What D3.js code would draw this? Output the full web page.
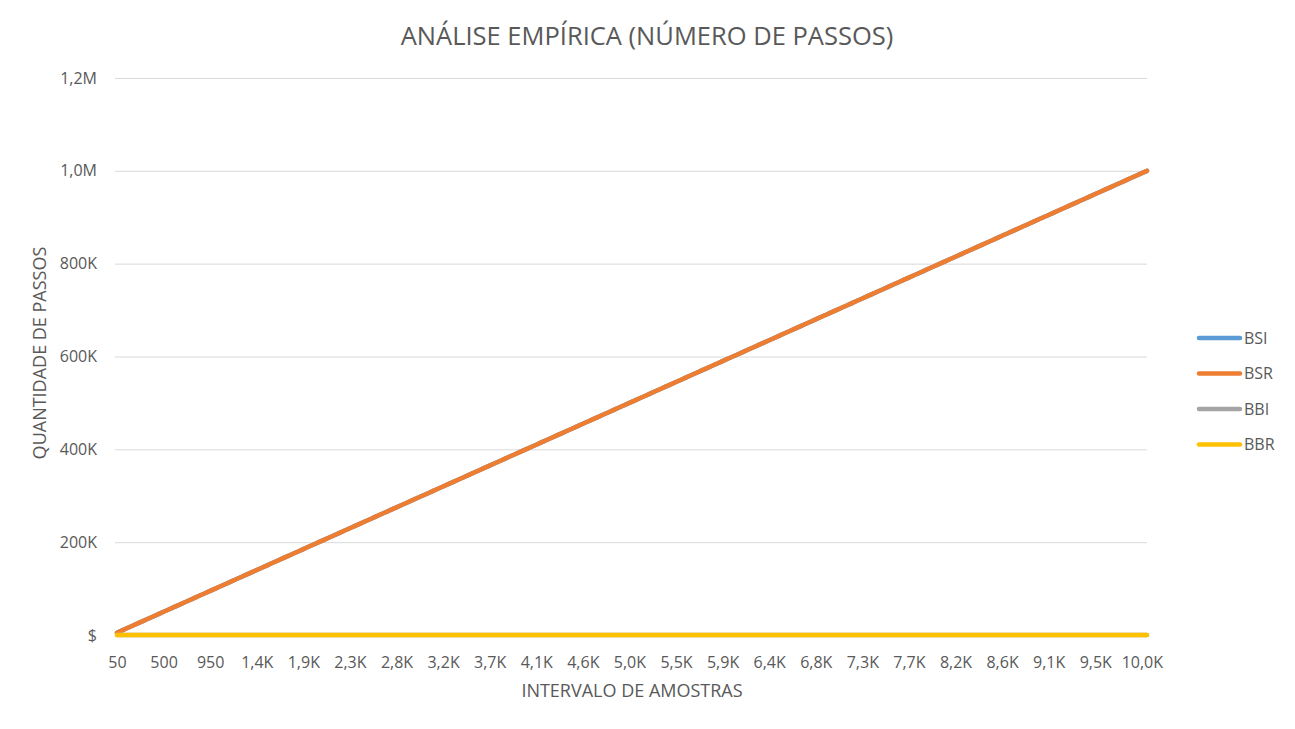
<!DOCTYPE html>
<html>
<head>
<meta charset="utf-8">
<script src="https://cdn.jsdelivr.net/npm/d3@7"></script>
<style>
  html, body { margin: 0; padding: 0; background: #fff; }
  svg { display: block; }
  text { font-family: "Open Sans", "Liberation Sans", sans-serif; fill: #595959; }
</style>
</head>
<body>
<svg id="chart" width="1295" height="729"></svg>
<script>
const categories = [
  50,100,150,200,250,300,350,400,450,500,
  550,600,650,700,750,800,850,900,950,1000,
  1050,1100,1150,1200,1250,1300,1350,1400,1450,1500,
  1550,1600,1650,1700,1750,1800,1850,1900,1950,2000,
  2050,2100,2150,2200,2250,2300,2350,2400,2450,2500,
  2550,2600,2650,2700,2750,2800,2850,2900,2950,3000,
  3050,3100,3150,3200,3250,3300,3350,3400,3450,3500,
  3550,3600,3650,3700,3750,3800,3850,3900,3950,4000,
  4050,4100,4150,4200,4250,4300,4350,4400,4450,4500,
  4550,4600,4650,4700,4750,4800,4850,4900,4950,5000,
  5050,5100,5150,5200,5250,5300,5350,5400,5450,5500,
  5550,5600,5650,5700,5750,5800,5850,5900,5950,6000,
  6050,6100,6150,6200,6250,6300,6350,6400,6450,6500,
  6550,6600,6650,6700,6750,6800,6850,6900,6950,7000,
  7050,7100,7150,7200,7250,7300,7350,7400,7450,7500,
  7550,7600,7650,7700,7750,7800,7850,7900,7950,8000,
  8050,8100,8150,8200,8250,8300,8350,8400,8450,8500,
  8550,8600,8650,8700,8750,8800,8850,8900,8950,9000,
  9050,9100,9150,9200,9250,9300,9350,9400,9450,9500,
  9550,9600,9650,9700,9750,9800,9850,9900,9950,10000
];

const BSI = [
  5000,10000,15000,20000,25000,30000,35000,40000,45000,50000,
  55000,60000,65000,70000,75000,80000,85000,90000,95000,100000,
  105000,110000,115000,120000,125000,130000,135000,140000,145000,150000,
  155000,160000,165000,170000,175000,180000,185000,190000,195000,200000,
  205000,210000,215000,220000,225000,230000,235000,240000,245000,250000,
  255000,260000,265000,270000,275000,280000,285000,290000,295000,300000,
  305000,310000,315000,320000,325000,330000,335000,340000,345000,350000,
  355000,360000,365000,370000,375000,380000,385000,390000,395000,400000,
  405000,410000,415000,420000,425000,430000,435000,440000,445000,450000,
  455000,460000,465000,470000,475000,480000,485000,490000,495000,500000,
  505000,510000,515000,520000,525000,530000,535000,540000,545000,550000,
  555000,560000,565000,570000,575000,580000,585000,590000,595000,600000,
  605000,610000,615000,620000,625000,630000,635000,640000,645000,650000,
  655000,660000,665000,670000,675000,680000,685000,690000,695000,700000,
  705000,710000,715000,720000,725000,730000,735000,740000,745000,750000,
  755000,760000,765000,770000,775000,780000,785000,790000,795000,800000,
  805000,810000,815000,820000,825000,830000,835000,840000,845000,850000,
  855000,860000,865000,870000,875000,880000,885000,890000,895000,900000,
  905000,910000,915000,920000,925000,930000,935000,940000,945000,950000,
  955000,960000,965000,970000,975000,980000,985000,990000,995000,1000000
];

const BSR = [
  5000,10000,15000,20000,25000,30000,35000,40000,45000,50000,
  55000,60000,65000,70000,75000,80000,85000,90000,95000,100000,
  105000,110000,115000,120000,125000,130000,135000,140000,145000,150000,
  155000,160000,165000,170000,175000,180000,185000,190000,195000,200000,
  205000,210000,215000,220000,225000,230000,235000,240000,245000,250000,
  255000,260000,265000,270000,275000,280000,285000,290000,295000,300000,
  305000,310000,315000,320000,325000,330000,335000,340000,345000,350000,
  355000,360000,365000,370000,375000,380000,385000,390000,395000,400000,
  405000,410000,415000,420000,425000,430000,435000,440000,445000,450000,
  455000,460000,465000,470000,475000,480000,485000,490000,495000,500000,
  505000,510000,515000,520000,525000,530000,535000,540000,545000,550000,
  555000,560000,565000,570000,575000,580000,585000,590000,595000,600000,
  605000,610000,615000,620000,625000,630000,635000,640000,645000,650000,
  655000,660000,665000,670000,675000,680000,685000,690000,695000,700000,
  705000,710000,715000,720000,725000,730000,735000,740000,745000,750000,
  755000,760000,765000,770000,775000,780000,785000,790000,795000,800000,
  805000,810000,815000,820000,825000,830000,835000,840000,845000,850000,
  855000,860000,865000,870000,875000,880000,885000,890000,895000,900000,
  905000,910000,915000,920000,925000,930000,935000,940000,945000,950000,
  955000,960000,965000,970000,975000,980000,985000,990000,995000,1000000
];

const BBI = [
  6,7,8,8,8,9,9,9,9,9,
  10,10,10,10,10,10,10,10,10,10,
  11,11,11,11,11,11,11,11,11,11,
  11,11,11,11,11,11,11,11,11,11,
  12,12,12,12,12,12,12,12,12,12,
  12,12,12,12,12,12,12,12,12,12,
  12,12,12,12,12,12,12,12,12,12,
  12,12,12,12,12,12,12,12,12,12,
  12,13,13,13,13,13,13,13,13,13,
  13,13,13,13,13,13,13,13,13,13,
  13,13,13,13,13,13,13,13,13,13,
  13,13,13,13,13,13,13,13,13,13,
  13,13,13,13,13,13,13,13,13,13,
  13,13,13,13,13,13,13,13,13,13,
  13,13,13,13,13,13,13,13,13,13,
  13,13,13,13,13,13,13,13,13,13,
  13,13,13,14,14,14,14,14,14,14,
  14,14,14,14,14,14,14,14,14,14,
  14,14,14,14,14,14,14,14,14,14,
  14,14,14,14,14,14,14,14,14,14
];

const BBR = [
  6,7,8,8,8,9,9,9,9,9,
  10,10,10,10,10,10,10,10,10,10,
  11,11,11,11,11,11,11,11,11,11,
  11,11,11,11,11,11,11,11,11,11,
  12,12,12,12,12,12,12,12,12,12,
  12,12,12,12,12,12,12,12,12,12,
  12,12,12,12,12,12,12,12,12,12,
  12,12,12,12,12,12,12,12,12,12,
  12,13,13,13,13,13,13,13,13,13,
  13,13,13,13,13,13,13,13,13,13,
  13,13,13,13,13,13,13,13,13,13,
  13,13,13,13,13,13,13,13,13,13,
  13,13,13,13,13,13,13,13,13,13,
  13,13,13,13,13,13,13,13,13,13,
  13,13,13,13,13,13,13,13,13,13,
  13,13,13,13,13,13,13,13,13,13,
  13,13,13,14,14,14,14,14,14,14,
  14,14,14,14,14,14,14,14,14,14,
  14,14,14,14,14,14,14,14,14,14,
  14,14,14,14,14,14,14,14,14,14
];

const seriesNames = ["BSI", "BSR", "BBI", "BBR"];
const seriesColors = ["#5B9BD5", "#ED7D31", "#A5A5A5", "#FFC000"];

const xTickValues = [50,500,950,1400,1850,2300,2750,3200,3650,4100,4550,5000,5450,5900,6350,6800,7250,7700,8150,8600,9050,9500,9950];
const xTickLabels = ["50","500","950","1,4K","1,9K","2,3K","2,8K","3,2K","3,7K","4,1K","4,6K","5,0K","5,5K","5,9K","6,4K","6,8K","7,3K","7,7K","8,2K","8,6K","9,1K","9,5K","10,0K"];
const yTickValues = [0,200000,400000,600000,800000,1000000,1200000];
const yTickLabels = ["$","200K","400K","600K","800K","1,0M","1,2M"];

const titleText = "ANÁLISE EMPÍRICA (NÚMERO DE PASSOS)";
const xTitle = "INTERVALO DE AMOSTRAS";
const yTitle = "QUANTIDADE DE PASSOS";

(function () {
const svg = d3.select("#chart");
const plotL = 117, plotR = 1147, plotT = 78, plotB = 635;

const x = d3.scalePoint().domain(categories).range([plotL, plotR]);
const y = d3.scaleLinear().domain([0, 1200000]).range([plotB, plotT]);

// gridlines + y labels
const yAxis = d3.axisLeft(y).tickValues(yTickValues)
  .tickSize(-(plotR - plotL + 2))
  .tickFormat((d, i) => yTickLabels[i]);
const gy = svg.append("g").attr("transform", `translate(${plotL - 2},0)`).call(yAxis);
gy.select(".domain").remove();
gy.selectAll(".tick line").attr("stroke", "#D9D9D9").attr("stroke-width", 1);
gy.selectAll(".tick text").attr("x", -18).attr("font-size", "16px")
  .style("font-family", '"Open Sans", sans-serif').attr("fill", "#595959");

// x axis
const labelMap = new Map(xTickValues.map((v, i) => [v, xTickLabels[i]]));
const xAxis = d3.axisBottom(x).tickValues(xTickValues).tickSize(0)
  .tickFormat(d => labelMap.get(d));
const gx = svg.append("g").attr("transform", `translate(0,${plotB})`).call(xAxis);
gx.select(".domain").attr("stroke", "#D9D9D9");
gx.selectAll(".tick text").attr("dy", 0).attr("y", 33).attr("font-size", "16px")
  .style("font-family", '"Open Sans", sans-serif').attr("fill", "#595959");

// lines
const allSeries = [BSI, BSR, BBI, BBR];
const line = d3.line().x((d, i) => x(categories[i])).y(d => y(d));
allSeries.forEach((s, k) => {
  svg.append("path").datum(s)
    .attr("fill", "none")
    .attr("stroke", seriesColors[k])
    .attr("stroke-width", 4.5)
    .attr("stroke-linejoin", "round")
    .attr("stroke-linecap", "round")
    .attr("d", line);
});

// title
svg.append("text").attr("x", 647).attr("y", 45).attr("text-anchor", "middle")
  .attr("font-size", "25.5px").text(titleText);

// axis titles
svg.append("text").attr("x", 632).attr("y", 697).attr("text-anchor", "middle")
  .attr("font-size", "18px").text(xTitle);
svg.append("text").attr("transform", "translate(46,353) rotate(-90)")
  .attr("text-anchor", "middle").attr("font-size", "18px").text(yTitle);

// legend
const legendY = [338, 373.5, 409, 444.5];
seriesNames.forEach((n, k) => {
  svg.append("line").attr("x1", 1199).attr("x2", 1240)
    .attr("y1", legendY[k]).attr("y2", legendY[k])
    .attr("stroke", seriesColors[k]).attr("stroke-width", 4.5).attr("stroke-linecap", "round");
  svg.append("text").attr("x", 1244).attr("y", legendY[k]).attr("dy", "0.36em")
    .attr("font-size", "16px").text(n);
});
})();
</script>
</body>
</html>
